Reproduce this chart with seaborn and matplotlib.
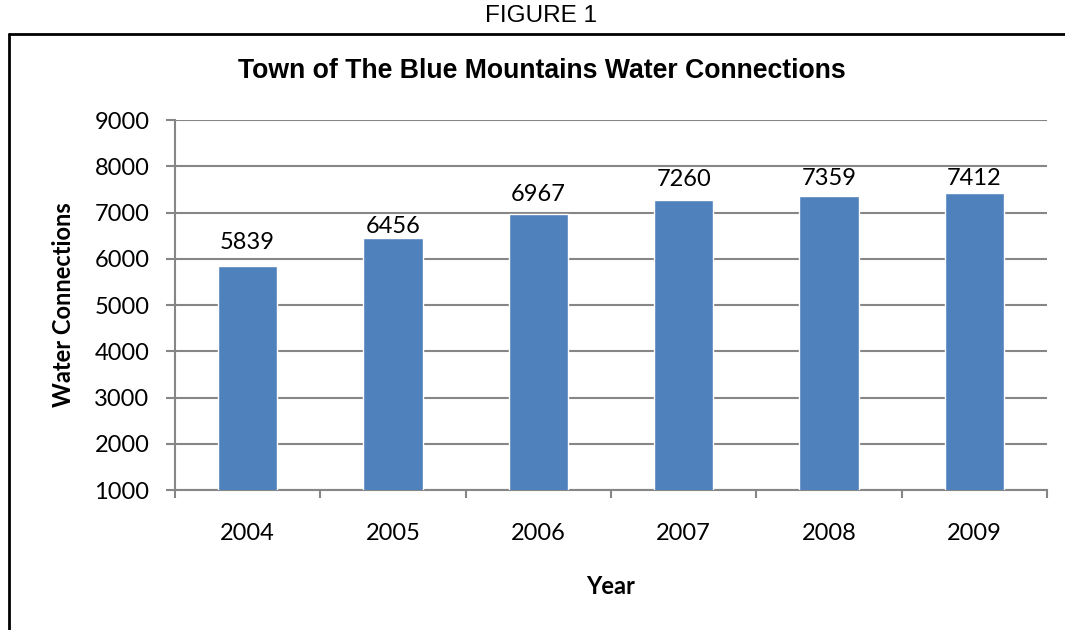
import numpy as np
import pandas as pd
import matplotlib.pyplot as plt
import seaborn as sns
from matplotlib.lines import Line2D

# data
years = ["2004", "2005", "2006", "2007", "2008", "2009"]
connections = [5839, 6456, 6967, 7260, 7359, 7412]

# the value labels sit at slightly different heights above each bar
label_pad = [9.4, 0.8, 6.5, 7.2, 5.0, 2.9]

df = pd.DataFrame({"Year": years, "Connections": connections})

sns.set_style("white")
plt.rcParams['font.family'] = ['Lato', 'DejaVu Sans']
plt.rcParams['text.color'] = 'black'
plt.rcParams['axes.labelcolor'] = 'black'
plt.rcParams['xtick.color'] = 'black'
plt.rcParams['ytick.color'] = 'black'

grid_col = "#868686"
bar_col = "#4F81BD"

fig = plt.figure(figsize=(10.65, 6.3), dpi=100)
ax = fig.add_axes([0.1643, 0.2222, 0.8188, 0.5873])

sns.barplot(data=df, x="Year", y="Connections", color=bar_col, width=0.41,
            saturation=1, ax=ax, zorder=3)

ax.set_ylim(1000, 9000)
ax.set_xlim(-0.5, 5.5)
ax.set_yticks(np.arange(1000, 9001, 1000))
ax.yaxis.grid(True, color=grid_col, lw=1.5, zorder=0)
ax.set_axisbelow(True)

for s in ["top", "right"]:
    ax.spines[s].set_visible(False)
for s in ["left", "bottom"]:
    ax.spines[s].set_color(grid_col)
    ax.spines[s].set_linewidth(1.5)

ax.tick_params(axis="y", length=6.5, width=1.5, color=grid_col, labelcolor="black",
               labelsize=17, pad=12, left=True)
ax.set_xticks(np.arange(-0.5, 6, 1), minor=True)
ax.tick_params(axis="x", which="major", length=0, labelsize=17, labelcolor="black", pad=24)
ax.tick_params(axis="x", which="minor", length=6, width=1.5, color=grid_col, bottom=True)

for bar, val, pad in zip(ax.containers[0], connections, label_pad):
    ax.annotate(str(val), (bar.get_x() + bar.get_width() / 2, bar.get_height()),
                xytext=(0, pad), textcoords="offset points", ha="center", va="bottom",
                fontsize=17, color="black")

ax.set_ylabel("Water Connections", fontsize=17, fontweight="bold", labelpad=14)
ax.set_xlabel("Year", fontsize=17, fontweight="bold", labelpad=22)

fig.text(0.509, 0.888, "Town of The Blue Mountains Water Connections", ha="center", va="center",
         fontsize=19.2, fontweight="bold", color="black", family=["Liberation Sans", "DejaVu Sans"])
fig.text(0.508, 0.974, "FIGURE 1", ha="center", va="center", fontsize=17.5, color="black",
         family=["Liberation Sans", "DejaVu Sans"])

# border box around the chart
fig.add_artist(Line2D([0.008, 0.008], [0.0, 0.946], color="black", lw=2, transform=fig.transFigure))
fig.add_artist(Line2D([0.008, 1.0], [0.946, 0.946], color="black", lw=2, transform=fig.transFigure))

fig.savefig("out.png", dpi=100)
